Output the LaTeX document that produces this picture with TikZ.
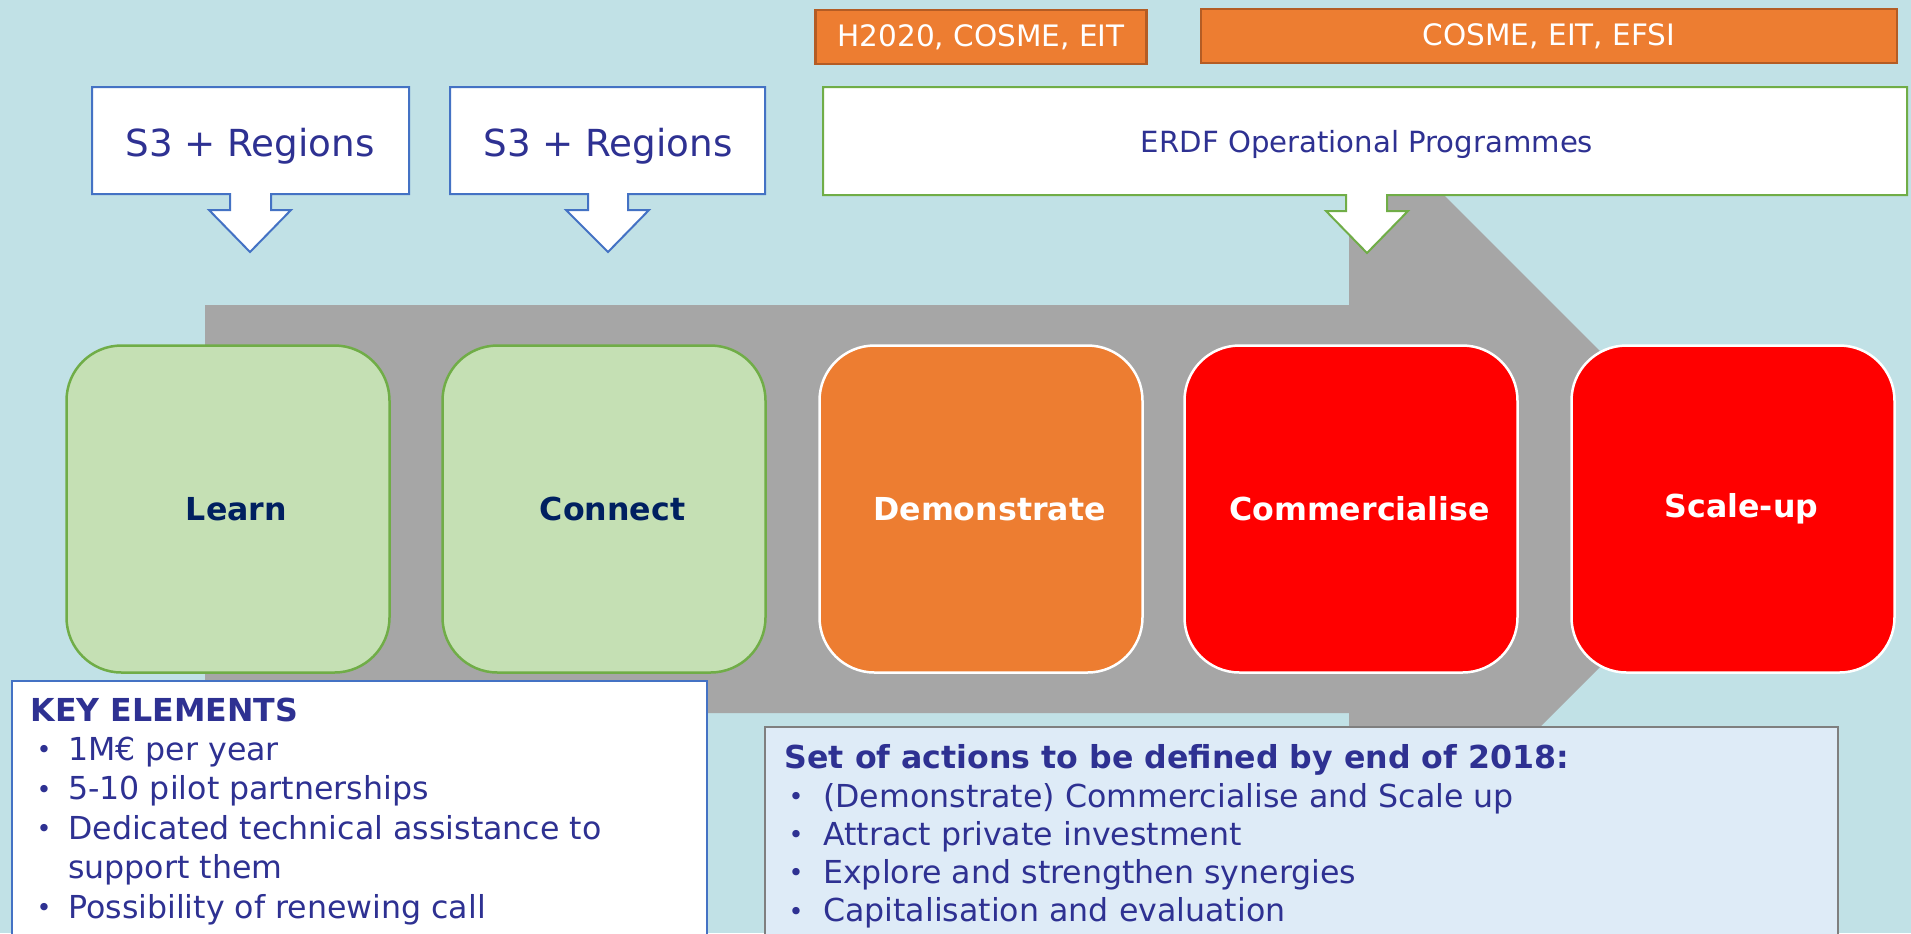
\documentclass[tikz,border=0pt]{standalone}
\usepackage{fontspec}
\setmainfont{DejaVu Sans}

\definecolor{bgblue}{RGB}{193,225,230}
\definecolor{arrowgray}{RGB}{166,166,166}
\definecolor{txtblue}{RGB}{46,49,146}
\definecolor{navy}{RGB}{0,32,96}
\definecolor{callblue}{RGB}{68,114,196}
\definecolor{stagegreen}{RGB}{197,224,180}
\definecolor{edgegreen}{RGB}{112,173,71}
\definecolor{fundorange}{RGB}{237,125,49}
\definecolor{edgeorange}{RGB}{180,92,36}
\definecolor{stagered}{RGB}{255,0,0}
\definecolor{actfill}{RGB}{222,235,247}
\definecolor{actedge}{RGB}{127,127,127}

\newcommand{\itemdot}{\raisebox{0.5pt}{\fontsize{7.2}{7}\selectfont •}}

\tikzset{
  regbox/.style={draw=callblue, fill=white, line width=0.2mm},
  erdfbox/.style={draw=edgegreen, fill=white, line width=0.2mm},
  regtext/.style={text=txtblue, inner sep=0pt, font=\fontsize{10.6}{12}\selectfont},
  erdftext/.style={text=txtblue, inner sep=0pt, font=\fontsize{8.3}{10}\selectfont},
  fundbox/.style={draw=edgeorange, fill=fundorange, line width=0.25mm, text=white,
    minimum height=5.4mm, inner sep=0pt, font=\fontsize{8.4}{10}\selectfont},
  stagebox/.style={rounded corners=5.5mm, line width=0.25mm, minimum width=32.3mm,
    minimum height=32.7mm, inner sep=0pt, font=\bfseries\fontsize{9}{11}\selectfont,
    execute at begin node=\hspace*{1.7mm}},
  greenstage/.style={stagebox, draw=edgegreen, fill=stagegreen, text=navy},
  orangestage/.style={stagebox, draw=white, fill=fundorange, text=white},
  redstage/.style={stagebox, draw=white, fill=stagered, text=white},
  keyframe/.style={draw=callblue, fill=white, line width=0.2mm},
  actframe/.style={draw=actedge, fill=actfill, line width=0.2mm},
  listtext/.style={text=txtblue, inner sep=0pt, align=left, anchor=north west}
}

\begin{document}
\begin{tikzpicture}[x=0.1mm, y=-0.1mm]
  \clip (0,0) rectangle (1911,933);
  \fill[bgblue] (0,0) rectangle (1911,933);

  % big gray arrow behind the stages
  \fill[arrowgray] (205,305) -- (1349,305) -- (1349,100) -- (1758,509)
    -- (1349,918) -- (1349,713) -- (205,713) -- cycle;

  % funding labels
  \node[fundbox, minimum width=33.1mm] (h2020) at (981,37) {H2020, COSME, EIT};
  \node[fundbox, minimum width=69.6mm] (cosme) at (1549,36) {COSME, EIT, EFSI};

  % callouts
  \draw[regbox] (92,87) -- (409,87) -- (409,194) -- (271,194) -- (271,210)
    -- (291,210) -- (250,252) -- (209,210) -- (230,210) -- (230,194)
    -- (92,194) -- cycle
    (250,146) node[regtext] (reg1) {S3 + Regions};
  \draw[regbox] (450,87) -- (765,87) -- (765,194) -- (628,194) -- (628,210)
    -- (649,210) -- (608,252) -- (566,210) -- (588,210) -- (588,194)
    -- (450,194) -- cycle
    (608,146) node[regtext] (reg2) {S3 + Regions};
  \draw[erdfbox] (823,87) -- (1907,87) -- (1907,195) -- (1387,195) -- (1387,211)
    -- (1408,211) -- (1367,253) -- (1326,211) -- (1346,211) -- (1346,195)
    -- (823,195) -- cycle
    (1367,144) node[erdftext] (erdf) {ERDF Operational Programmes};

  % stages
  \node[greenstage] (learn) at (228,509) {Learn};
  \node[greenstage] (connect) at (604,509) {Connect};
  \node[orangestage] (demo) at (981,509) {Demonstrate};
  \node[redstage, minimum width=33.3mm] (comm) at (1351,509) {Commercialise};
  \node[redstage] (scale) at (1733,509) {Scale-up};

  % key elements
  \draw[keyframe] (12,681) rectangle (707,950);
  \node[listtext, font=\fontsize{9}{11.2}\selectfont] (keys) at (30,697) {%
    {\bfseries KEY ELEMENTS}\\
    \makebox[3.75mm][l]{\hspace{0.6mm}\itemdot}1M€ per year\\
    \makebox[3.75mm][l]{\hspace{0.6mm}\itemdot}5-10 pilot partnerships\\
    \makebox[3.75mm][l]{\hspace{0.6mm}\itemdot}Dedicated technical assistance to\\
    \hspace*{3.75mm}support them\\
    \makebox[3.75mm][l]{\hspace{0.6mm}\itemdot}Possibility of renewing call};

  % actions
  \draw[actframe] (765,727) rectangle (1838,950);
  \node[listtext, font=\fontsize{9}{10.9}\selectfont] (actions) at (784,744) {%
    {\bfseries Set of actions to be defined by end of 2018:}\\
    \makebox[3.85mm][l]{\hspace{0.4mm}\itemdot}(Demonstrate) Commercialise and Scale up\\
    \makebox[3.85mm][l]{\hspace{0.4mm}\itemdot}Attract private investment\\
    \makebox[3.85mm][l]{\hspace{0.4mm}\itemdot}Explore and strengthen synergies\\
    \makebox[3.85mm][l]{\hspace{0.4mm}\itemdot}Capitalisation and evaluation};
\end{tikzpicture}
\end{document}
